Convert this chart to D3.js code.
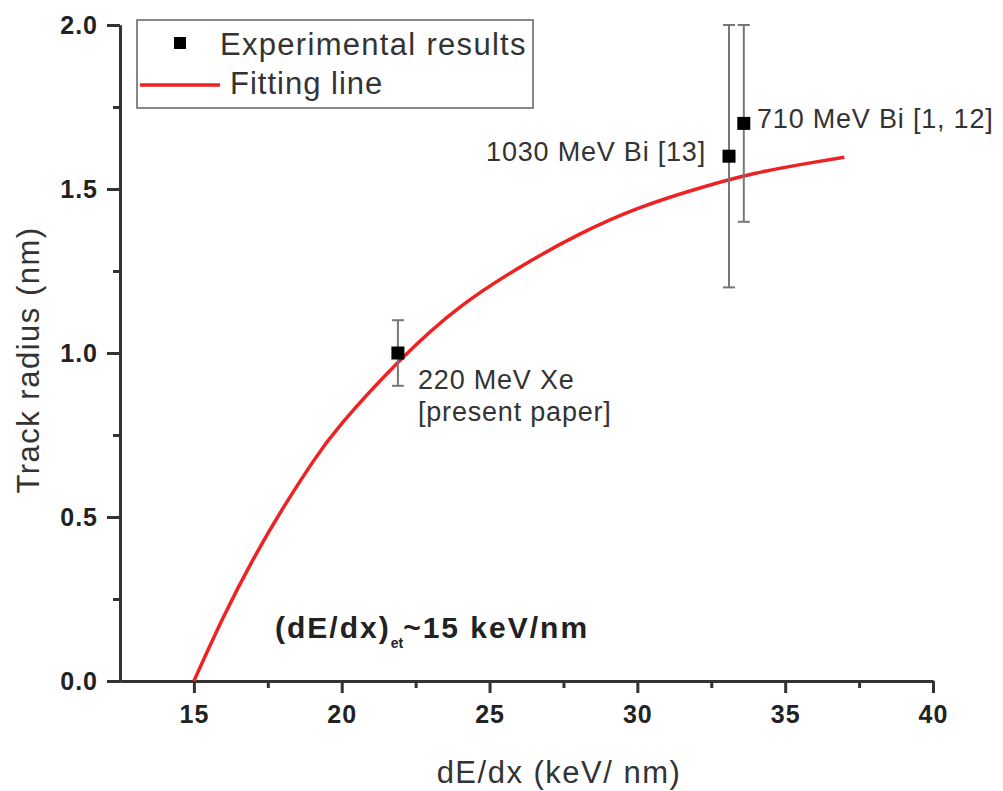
<!DOCTYPE html>
<html>
<head>
<meta charset="utf-8">
<script src="https://cdn.jsdelivr.net/npm/d3@7"></script>
<style>
  body { margin: 0; background: #fff; }
  text { font-family: Arial, "Liberation Sans", sans-serif; }
  .axis path, .axis line { stroke: #333; stroke-width: 3; }
  .axis text { font-size: 25px; font-weight: bold; fill: #222; letter-spacing: 1px; }
</style>
</head>
<body>
<div id="chart"></div>
<script>
(function() {
  var width = 1003, height = 791;
  var margin = { top: 25, left: 120, right: 70, bottom: 110 };

  // experimental points
  var pointX = [21.9, 33.1, 33.6];
  var pointY = [1.0, 1.6, 1.7];
  var pointErr = [0.1, 0.4, 0.3];

  // fitting line
  var fitX = [15, 16, 17, 18, 19, 20, 22, 24, 26, 28, 30, 32, 34, 36, 37];
  var fitY = [0, 0.195, 0.37, 0.525, 0.665, 0.785, 0.98, 1.14, 1.26, 1.36, 1.44, 1.50, 1.548, 1.582, 1.597];

  var xTicks = [15, 20, 25, 30, 35, 40];
  var xMinor = [17.5, 22.5, 27.5, 32.5, 37.5];
  var yTicks = [0, 0.5, 1.0, 1.5, 2.0];
  var yMinor = [0.25, 0.75, 1.25, 1.75];

  var svg = d3.select("#chart")
    .append("svg")
    .attr("width", width)
    .attr("height", height);

  var xPositionScale = d3.scaleLinear().domain([12.5, 40]).range([margin.left, width - margin.right]);
  var yPositionScale = d3.scaleLinear().domain([0, 2]).range([height - margin.bottom, margin.top]);

  // minor ticks first
  svg.append("g")
    .attr("class", "axis")
    .attr("transform", "translate(0," + yPositionScale(0) + ")")
    .call(d3.axisBottom(xPositionScale).tickValues(xMinor).tickSize(7).tickSizeOuter(0).tickFormat(""));
  svg.append("g")
    .attr("class", "axis")
    .attr("transform", "translate(" + xPositionScale(12.5) + ",0)")
    .call(d3.axisLeft(yPositionScale).tickValues(yMinor).tickSize(7).tickSizeOuter(0).tickFormat(""));

  var xAxis = d3.axisBottom(xPositionScale).tickValues(xTicks).tickSize(12).tickSizeOuter(0).tickPadding(12);
  svg.append("g")
    .attr("class", "axis x-axis")
    .attr("transform", "translate(0," + yPositionScale(0) + ")")
    .call(xAxis);

  var yAxis = d3.axisLeft(yPositionScale).tickValues(yTicks).tickSize(13).tickSizeOuter(0).tickPadding(9)
    .tickFormat(d3.format(".1f"));
  svg.append("g")
    .attr("class", "axis y-axis")
    .attr("transform", "translate(" + xPositionScale(12.5) + ",0)")
    .call(yAxis);

  // axis titles
  svg.append("text")
    .attr("x", 559)
    .attr("y", 783)
    .attr("text-anchor", "middle")
    .style("font-size", "31px")
    .style("letter-spacing", "1.5px")
    .attr("fill", "#333")
    .text("dE/dx (keV/ nm)");

  svg.append("text")
    .attr("transform", "translate(39,360) rotate(-90)")
    .attr("text-anchor", "middle")
    .style("font-size", "31px")
    .style("letter-spacing", "1.5px")
    .attr("fill", "#333")
    .text("Track radius (nm)");

  // fitting line
  var fitData = fitX.map(function(d, i) { return { x: d, y: fitY[i] }; });
  var line = d3.line()
    .x(function(d) { return xPositionScale(d.x); })
    .y(function(d) { return yPositionScale(d.y); })
    .curve(d3.curveNatural);

  svg.append("path")
    .datum(fitData)
    .attr("d", line)
    .attr("fill", "none")
    .attr("stroke", "#ee2222")
    .attr("stroke-width", 3.5);

  // error bars
  var points = pointX.map(function(d, i) { return { x: d, y: pointY[i], err: pointErr[i] }; });
  var bars = svg.selectAll(".err")
    .data(points)
    .enter().append("g")
    .attr("class", "err")
    .attr("stroke", "#777")
    .attr("stroke-width", 2);
  bars.append("line")
    .attr("x1", function(d) { return xPositionScale(d.x); })
    .attr("x2", function(d) { return xPositionScale(d.x); })
    .attr("y1", function(d) { return yPositionScale(d.y - d.err); })
    .attr("y2", function(d) { return yPositionScale(d.y + d.err); });
  bars.append("line")
    .attr("x1", function(d) { return xPositionScale(d.x) - 6; })
    .attr("x2", function(d) { return xPositionScale(d.x) + 6; })
    .attr("y1", function(d) { return yPositionScale(d.y - d.err); })
    .attr("y2", function(d) { return yPositionScale(d.y - d.err); });
  bars.append("line")
    .attr("x1", function(d) { return xPositionScale(d.x) - 6; })
    .attr("x2", function(d) { return xPositionScale(d.x) + 6; })
    .attr("y1", function(d) { return yPositionScale(d.y + d.err); })
    .attr("y2", function(d) { return yPositionScale(d.y + d.err); });

  svg.selectAll(".pt")
    .data(points)
    .enter().append("rect")
    .attr("class", "pt")
    .attr("x", function(d) { return xPositionScale(d.x) - 6.5; })
    .attr("y", function(d) { return yPositionScale(d.y) - 6.5; })
    .attr("width", 13)
    .attr("height", 13)
    .attr("fill", "#000");

  // point labels
  var labelStyle = function(sel) {
    sel.style("font-size", "27px").style("letter-spacing", "0.8px").attr("fill", "#333");
  };
  svg.append("text").attr("x", 706).attr("y", 161).attr("text-anchor", "end").call(labelStyle).text("1030 MeV Bi [13]");
  svg.append("text").attr("x", 757).attr("y", 128).call(labelStyle).text("710 MeV Bi [1, 12]");
  svg.append("text").attr("x", 418).attr("y", 389).call(labelStyle).text("220 MeV Xe");
  svg.append("text").attr("x", 418).attr("y", 421).call(labelStyle).text("[present paper]");

  // threshold note
  var note = svg.append("text")
    .attr("x", 275)
    .attr("y", 638)
    .style("font-size", "30px")
    .style("font-weight", "bold")
    .style("letter-spacing", "2px")
    .attr("fill", "#222");
  note.append("tspan").text("(dE/dx)");
  note.append("tspan").attr("dy", 10).style("font-size", "14px").style("letter-spacing", "0px").text("et");
  note.append("tspan").attr("dy", -10).text("~15 keV/nm");

  // legend
  var legend = svg.append("g");
  legend.append("rect")
    .attr("x", 137).attr("y", 20).attr("width", 396).attr("height", 88)
    .attr("fill", "#fff").attr("stroke", "#888").attr("stroke-width", 2);
  legend.append("rect")
    .attr("x", 174).attr("y", 37).attr("width", 12).attr("height", 12).attr("fill", "#000");
  legend.append("text").attr("x", 220).attr("y", 55)
    .style("font-size", "31px").style("letter-spacing", "1.3px").attr("fill", "#333")
    .text("Experimental results");
  legend.append("line")
    .attr("x1", 140).attr("x2", 220).attr("y1", 85).attr("y2", 85)
    .attr("stroke", "#ee2222").attr("stroke-width", 3.5);
  legend.append("text").attr("x", 230).attr("y", 94)
    .style("font-size", "31px").style("letter-spacing", "1px").attr("fill", "#333")
    .text("Fitting line");
})();
</script>
</body>
</html>
